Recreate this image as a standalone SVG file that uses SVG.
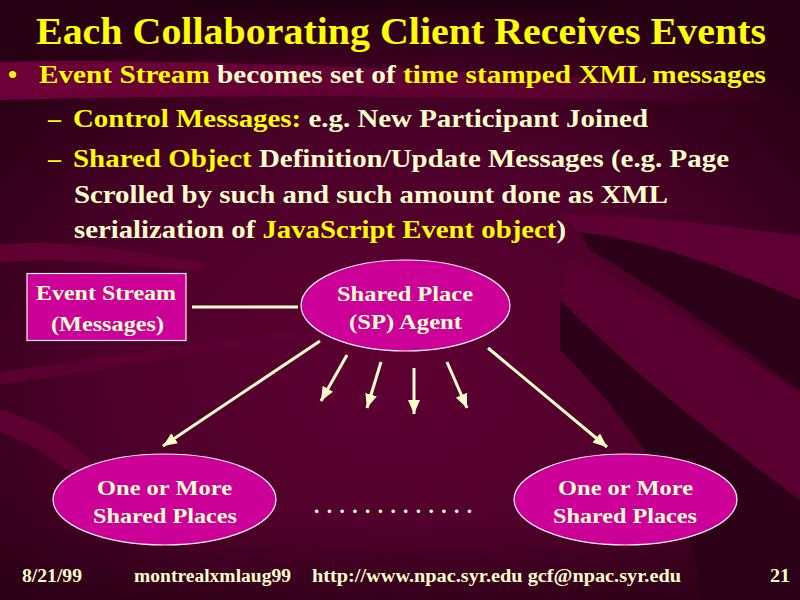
<svg xmlns="http://www.w3.org/2000/svg" width="800" height="600" viewBox="0 0 800 600">
<defs>
<radialGradient id="bgGrad" cx="0.5" cy="0.62" r="0.7">
<stop offset="0" stop-color="#5e0032"/>
<stop offset="0.55" stop-color="#4c0029"/>
<stop offset="1" stop-color="#260013"/>
</radialGradient>
<linearGradient id="topGrad" x1="0" y1="0" x2="0" y2="1">
<stop offset="0" stop-color="#220010"/>
<stop offset="1" stop-color="#2e0017" stop-opacity="0"/>
</linearGradient>
<linearGradient id="botGrad" x1="0" y1="0" x2="0" y2="1">
<stop offset="0" stop-color="#2a0015" stop-opacity="0"/>
<stop offset="1" stop-color="#2a0015" stop-opacity="0.7"/>
</linearGradient>
<linearGradient id="bandGrad" x1="0" y1="0" x2="1" y2="0">
<stop offset="0" stop-color="#6e0038"/>
<stop offset="0.7" stop-color="#5a002f"/>
<stop offset="1" stop-color="#4a0028" stop-opacity="0"/>
</linearGradient>
<marker id="arrow" viewBox="0 0 14 12" refX="14" refY="6" markerWidth="14" markerHeight="12" markerUnits="userSpaceOnUse" orient="auto">
<path d="M0,0 L14,6 L0,12 z" fill="#ffffcc"/>
</marker>
<style>
.t{font-family:"Liberation Serif","Times New Roman",serif;font-weight:bold}
.yel{fill:#ffff00}
.crm{fill:#ffffcc}
.node{fill:#cc0099;stroke:#fff0f0;stroke-width:1.2}
.lbl{font-family:"Liberation Serif","Times New Roman",serif;font-weight:bold;font-size:21px;fill:#ffffcc;text-anchor:middle}
.conn{stroke:#ffffcc;stroke-width:3;fill:none}
.ft{font-family:"Liberation Serif","Times New Roman",serif;font-weight:bold;font-size:18px;fill:#ffffcc}
</style>
</defs>

<g id="background">
<rect width="800" height="600" fill="url(#bgGrad)"/>
<rect width="800" height="70" fill="url(#topGrad)"/>
<path d="M0,62 C150,58 400,66 800,90 L800,104 C500,96 250,94 0,100 Z" fill="url(#bandGrad)"/>
<path d="M560,215 C650,215 740,228 800,236 L800,300 C730,270 650,240 580,232 Z" fill="#5e0033"/>
<path d="M580,232 C650,240 730,270 800,300 L800,390 C720,330 640,280 590,250 Z" fill="#2c0017"/>
<path d="M570,258 C640,290 720,340 800,392 L800,500 C720,440 640,380 560,300 Z" fill="#5a0030"/>
<path d="M560,300 C640,380 720,440 800,500 L800,600 L700,600 C700,520 640,430 560,350 Z" fill="#2c0017"/>
<path d="M0,245 C60,238 120,250 200,262 L200,272 C120,262 60,258 0,262 Z" fill="#600033"/>
<path d="M0,372 C100,358 200,342 300,330 L300,338 C200,352 100,370 0,385 Z" fill="#5a0030"/>
<path d="M0,410 C40,420 70,440 100,470 L130,500 L110,510 C80,480 50,450 0,432 Z" fill="#5e0032"/>
<rect y="520" width="800" height="80" fill="url(#botGrad)"/>
</g>

<g id="slide-text">
<text class="t yel" x="36" y="44" font-size="38" textLength="730" lengthAdjust="spacingAndGlyphs">Each Collaborating Client Receives Events</text>
<text class="t yel" x="8" y="83" font-size="26">•</text>
<text class="t" x="39" y="83" font-size="26" textLength="727" lengthAdjust="spacingAndGlyphs"><tspan class="yel">Event Stream</tspan><tspan class="crm"> becomes set of </tspan><tspan class="yel">time stamped  XML messages</tspan></text>
<text class="t yel" x="48" y="127" font-size="26">–</text>
<text class="t" x="73" y="127" font-size="26" textLength="575" lengthAdjust="spacingAndGlyphs"><tspan class="yel">Control Messages:</tspan><tspan class="crm"> e.g. New Participant Joined</tspan></text>
<text class="t yel" x="48" y="167" font-size="26">–</text>
<text class="t" x="73" y="167" font-size="26" textLength="656" lengthAdjust="spacingAndGlyphs"><tspan class="yel">Shared Object</tspan><tspan class="crm"> Definition/Update Messages (e.g. Page</tspan></text>
<text class="t crm" x="74" y="203" font-size="26" textLength="594" lengthAdjust="spacingAndGlyphs">Scrolled by such and such amount done as XML</text>
<text class="t" x="74" y="238" font-size="26" textLength="492" lengthAdjust="spacingAndGlyphs"><tspan class="crm">serialization of </tspan><tspan class="yel">JavaScript Event object</tspan><tspan class="crm">)</tspan></text>
</g>

<g id="connectors">
<line class="conn" x1="192" y1="307" x2="298" y2="307" stroke-width="4"/>
<line class="conn" x1="320" y1="341" x2="163" y2="446" marker-end="url(#arrow)"/>
<line class="conn" x1="347" y1="355" x2="321" y2="401" marker-end="url(#arrow)"/>
<line class="conn" x1="381" y1="362" x2="367" y2="408" marker-end="url(#arrow)"/>
<line class="conn" x1="414" y1="368" x2="414" y2="414" marker-end="url(#arrow)"/>
<line class="conn" x1="447" y1="362" x2="467" y2="408" marker-end="url(#arrow)"/>
<line class="conn" x1="488" y1="348" x2="607" y2="447" marker-end="url(#arrow)"/>
</g>

<g id="node-event-stream">
<rect class="node" x="27" y="273.5" width="159" height="67"/>
<text class="lbl" x="106" y="300" textLength="140" lengthAdjust="spacingAndGlyphs">Event Stream</text>
<text class="lbl" x="107.5" y="331" textLength="113" lengthAdjust="spacingAndGlyphs">(Messages)</text>
</g>

<g id="node-sp-agent">
<ellipse class="node" cx="405.5" cy="305.5" rx="104.5" ry="45.5"/>
<text class="lbl" x="405" y="301" textLength="136" lengthAdjust="spacingAndGlyphs">Shared Place</text>
<text class="lbl" x="405.5" y="329" textLength="113" lengthAdjust="spacingAndGlyphs">(SP) Agent</text>
</g>

<g id="node-places-left">
<ellipse class="node" cx="164.5" cy="499.5" rx="111.5" ry="45.5"/>
<text class="lbl" x="164.5" y="495" textLength="135" lengthAdjust="spacingAndGlyphs">One or More</text>
<text class="lbl" x="165" y="523" textLength="144" lengthAdjust="spacingAndGlyphs">Shared Places</text>
</g>

<g id="node-places-right">
<ellipse class="node" cx="625.5" cy="499.5" rx="111.5" ry="45.5"/>
<text class="lbl" x="625.5" y="495" textLength="135" lengthAdjust="spacingAndGlyphs">One or More</text>
<text class="lbl" x="625" y="523" textLength="144" lengthAdjust="spacingAndGlyphs">Shared Places</text>
</g>

<g id="ellipsis">
<text class="lbl" x="393" y="513" textLength="158" lengthAdjust="spacing">.............</text>
</g>

<g id="footer">
<text class="ft" x="22" y="582" textLength="60" lengthAdjust="spacingAndGlyphs">8/21/99</text>
<text class="ft" x="134" y="582" textLength="157" lengthAdjust="spacingAndGlyphs">montrealxmlaug99</text>
<text class="ft" x="312" y="582" textLength="369" lengthAdjust="spacingAndGlyphs">http://www.npac.syr.edu gcf@npac.syr.edu</text>
<text class="ft" x="770" y="582" textLength="20" lengthAdjust="spacingAndGlyphs">21</text>
</g>
</svg>
